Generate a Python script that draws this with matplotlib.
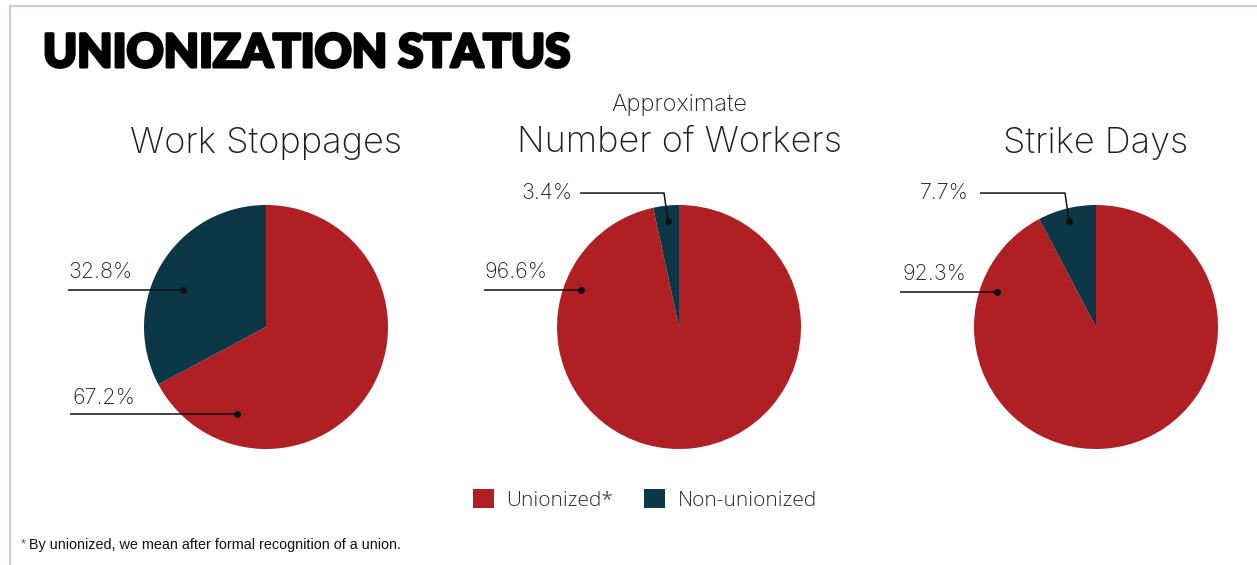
import matplotlib
matplotlib.use("Agg")
import matplotlib.pyplot as plt
from matplotlib.lines import Line2D
import matplotlib.patheffects as pe

# ---- data ----
categories = ["Unionized*", "Non-unionized"]
panel_titles = ["Work Stoppages", "Number of Workers", "Strike Days"]
panel_supertitles = ["", "Approximate", ""]
unionized = [67.2, 96.6, 92.3]
non_unionized = [32.8, 3.4, 7.7]
colors = ["#B01F24", "#0B3747"]

W, H = 1257, 565
fig = plt.figure(figsize=(W / 100, H / 100), dpi=100)
fig.patch.set_facecolor("white")

label_font = dict(family=["Inter", "DejaVu Sans"], weight="light", color="#1e1e1e")

# pie centres (px) and radius (px)
centres = [(266, 327), (679, 327), (1096, 327)]
R = 122

# annotation layout (in pie units, radius = 1): per panel -> [unionized, non-unionized]
# each: (dot_xy, elbow_xy or None, line_end_x, text_xy, ha)
ann_layout = [
    [((-0.238, -0.713), None, -1.607, (-1.59, -0.58), "left"),
     ((-0.680, 0.303), None, -1.623, (-1.623, 0.45), "left")],
    [((-0.803, 0.303), None, -1.598, (-1.598, 0.45), "left"),
     ((-0.090, 0.869), (-0.123, 1.098), -0.811, (-0.877, 1.098), "right")],
    [((-0.811, 0.287), None, -1.607, (-1.59, 0.434), "left"),
     ((-0.221, 0.869), (-0.254, 1.098), -0.951, (-1.041, 1.098), "right")],
]

wedges_for_legend = None
for i, (cx, cy) in enumerate(centres):
    left = (cx - R) / W
    bottom = 1 - (cy + R) / H
    ax = fig.add_axes([left, bottom, 2 * R / W, 2 * R / H])
    vals = [unionized[i], non_unionized[i]]
    wedges, _ = ax.pie(vals, colors=colors, startangle=90, counterclock=False,
                       radius=1, wedgeprops=dict(linewidth=0))
    if wedges_for_legend is None:
        wedges_for_legend = wedges
    ax.set_xlim(-1, 1)
    ax.set_ylim(-1, 1)
    ax.set_aspect("auto")
    ax.axis("off")
    for j, v in enumerate(vals):
        dot, elbow, lx, txy, ha = ann_layout[i][j]
        if elbow is None:
            xs, ys = [lx, dot[0]], [dot[1], dot[1]]
        else:
            xs, ys = [lx, elbow[0], dot[0]], [elbow[1], elbow[1], dot[1]]
        ax.plot(xs, ys, color="#111111", lw=1.1, clip_on=False, solid_capstyle="butt")
        ax.plot([dot[0]], [dot[1]], "o", color="#111111", ms=4, clip_on=False)
        ax.text(txy[0], txy[1], f"{v:.1f}%", ha=ha, va="center", fontsize=15.5,
                clip_on=False, **label_font)

# panel titles
for i, (cx, cy) in enumerate(centres):
    fig.text(cx / W, 1 - 143 / H, panel_titles[i], ha="center", va="center",
             fontsize=26, **label_font)
    if panel_supertitles[i]:
        fig.text(cx / W, 1 - 105 / H, panel_supertitles[i], ha="center", va="center",
                 fontsize=17, **label_font)

# main title
fig.text(43 / W, 1 - 67 / H, "UNIONIZATION STATUS", ha="left", va="baseline",
         fontsize=33, fontweight="black", family=["Lato", "DejaVu Sans"], color="#000000",
         path_effects=[pe.withStroke(linewidth=2.2, foreground="#000000")])

# legend
leg = fig.legend(wedges_for_legend, categories, loc="center",
                 bbox_to_anchor=(645 / W, 1 - 500 / H), ncol=2, frameon=False,
                 handlelength=1.0, handleheight=1.0, handletextpad=0.6,
                 columnspacing=1.5,
                 prop=dict(family=["Open Sans", "DejaVu Sans"], size=15, weight="light"))
for t in leg.get_texts():
    t.set_color("#2a2a2a")

# footnote
fig.text(21 / W, 1 - 544 / H, "*", ha="left", va="center", fontsize=9, color="#555555",
         family=["Liberation Sans", "DejaVu Sans"])
fig.text(29 / W, 1 - 545 / H, "By unionized, we mean after formal recognition of a union.",
         ha="left", va="center", fontsize=10.4, color="#111111",
         family=["Liberation Sans", "DejaVu Sans"])

# frame border lines
border = "#D3CCCA"
fig.add_artist(Line2D([10 / W, 1], [1 - 6 / H, 1 - 6 / H], color=border, lw=1.6,
                      transform=fig.transFigure))
fig.add_artist(Line2D([10 / W, 10 / W], [0, 1 - 6 / H], color=border, lw=1.6,
                      transform=fig.transFigure))

fig.savefig("out.png", dpi=100, facecolor="white")
